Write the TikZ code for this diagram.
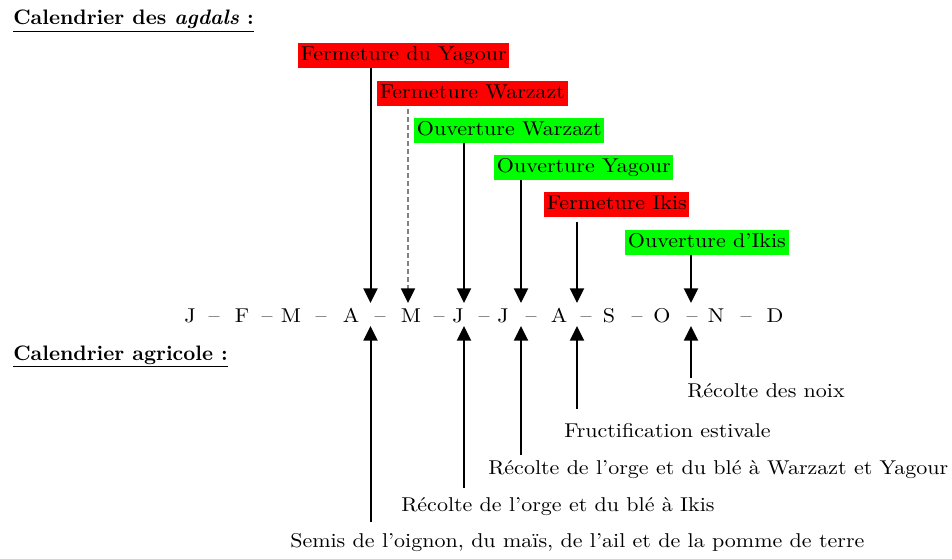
\documentclass[tikz,border=0pt]{standalone}
\usepackage{fontspec}
\setmainfont{lmroman10-regular.otf}[BoldFont=lmroman10-bold.otf, ItalicFont=lmroman10-italic.otf, BoldItalicFont=lmroman10-bolditalic.otf]
\newfontfamily\labfont{lmroman10-regular.otf}[FakeStretch=1.1]
\usetikzlibrary{arrows.meta}
\definecolor{boxred}{RGB}{255,0,0}
\definecolor{boxgreen}{RGB}{0,255,0}
\definecolor{dashgray}{RGB}{128,128,128}
\begin{document}
\begin{tikzpicture}[x=0.75pt,y=-0.75pt,
  lab/.style={font=\labfont\fontsize{15}{18}\selectfont, inner sep=0pt, text height=11pt, text depth=3.5pt},
  head/.style={font=\fontsize{15.7}{18}\selectfont\bfseries, inner sep=0pt, anchor=base west},
  tag/.style={lab, inner xsep=2pt, inner ysep=2pt, anchor=west},
  redtag/.style={tag, fill=boxred},
  greentag/.style={tag, fill=boxgreen},
  month/.style={lab, anchor=base},
  bottomlab/.style={lab, anchor=base west},
  conn/.style={line width=1.5pt, -{Triangle[width=10.5pt,length=11pt]}},
  dashconn/.style={line width=1.3pt, dashgray, dash pattern=on 3.75pt off 2.25pt, -{Triangle[width=10.5pt,length=11pt,color=black]}}
]
\useasboundingbox (0,0) rectangle (952,559);

% headings
\node[head] (H1) at (13,25) {\underline{Calendrier des \textit{agdals} :}};
\node[head] (H2) at (13,360) {\underline{Calendrier agricole :}};

% agdal events
\node[redtag]   (FY) at (298,55.5)  {Fermeture du Yagour};
\node[redtag]   (FW) at (377,93.5)  {Fermeture Warzazt};
\node[greentag] (OW) at (414,130.5) {Ouverture Warzazt};
\node[greentag] (OY) at (494,167.5) {Ouverture Yagour};
\node[redtag]   (FI) at (544,204.5) {Fermeture Ikis};
\node[greentag] (OI) at (625,242.5) {Ouverture d’Ikis};

% months
\node[month] (m1)  at (190,323) {J};
\node[month] (s1)  at (214,323) {–};
\node[month] (m2)  at (242,323) {F};
\node[month] (s2)  at (267,323) {–};
\node[month] (m3)  at (291,323) {M};
\node[month] (s3)  at (321,323) {–};
\node[month] (m4)  at (351,323) {A};
\node[month] (s4)  at (380,323) {–};
\node[month] (m5)  at (411,323) {M};
\node[month] (s5)  at (439,323) {–};
\node[month] (m6)  at (458,323) {J};
\node[month] (s6)  at (484,323) {–};
\node[month] (m7)  at (503,323) {J};
\node[month] (s7)  at (531,323) {–};
\node[month] (m8)  at (559,323) {A};
\node[month] (s8)  at (586,323) {–};
\node[month] (m9)  at (609,323) {S};
\node[month] (s9)  at (637,323) {–};
\node[month] (m10) at (662,323) {O};
\node[month] (s10) at (692,323) {–};
\node[month] (m11) at (716,323) {N};
\node[month] (s11) at (746,323) {–};
\node[month] (m12) at (775,323) {D};

% agricultural events
\node[bottomlab] (Lnoix)  at (687,397) {Récolte des noix};
\node[bottomlab] (Lfruct) at (564,437) {Fructification estivale};
\node[bottomlab] (Lwy)    at (488,474) {Récolte de l’orge et du blé à Warzazt et Yagour};
\node[bottomlab] (Likis)  at (401,511) {Récolte de l’orge et du blé à Ikis};
\node[bottomlab] (Lsemis) at (290,547) {Semis de l’oignon, du maïs, de l’ail et de la pomme de terre};

% arrow tips on the month row
\coordinate (dA)  at (370.5,303);
\coordinate (dM)  at (408,303);
\coordinate (dJ)  at (464,303);
\coordinate (dJb) at (521,303);
\coordinate (dAu) at (577,303);
\coordinate (dN)  at (691,303);
\coordinate (uA)  at (370.5,326);
\coordinate (uJ)  at (464,326);
\coordinate (uJb) at (521,326);
\coordinate (uAu) at (577,326);
\coordinate (uN)  at (691,326);

% line ends above the lower labels
\coordinate (eSemis) at (370.5,522);
\coordinate (eIkis)  at (464,488);
\coordinate (eWY)    at (521,455);
\coordinate (eFruct) at (577,409);
\coordinate (eNoix)  at (691,378);

% top connectors
\draw[conn] (FY.south -| dA) -- (dA);
\draw[dashconn, shorten <=2.5pt] (FW.south -| dM) -- (dM);
\draw[conn] (OW.south -| dJ) -- (dJ);
\draw[conn] (OY.south -| dJb) -- (dJb);
\draw[conn, shorten <=3.5pt] (FI.south -| dAu) -- (dAu);
\draw[conn] (OI.south -| dN) -- (dN);

% bottom connectors
\draw[conn] (eSemis) -- (uA);
\draw[conn] (eIkis) -- (uJ);
\draw[conn] (eWY) -- (uJb);
\draw[conn] (eFruct) -- (uAu);
\draw[conn] (eNoix) -- (uN);
\end{tikzpicture}
\end{document}
